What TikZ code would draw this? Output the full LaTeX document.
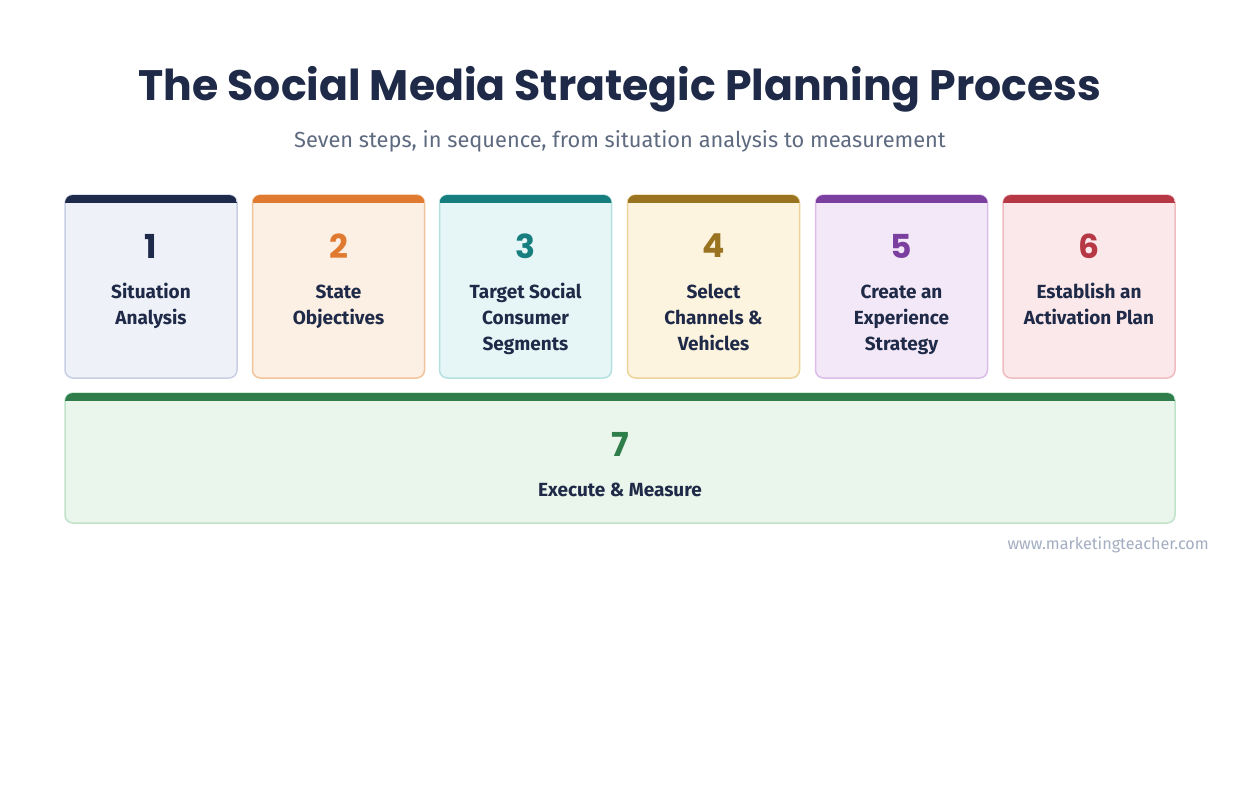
\documentclass[tikz,border=0pt]{standalone}
\usepackage{fontspec}
\setmainfont{Fira Sans}
\newfontfamily\titlefont{Poppins}
\definecolor{ink}{HTML}{1F2A48}
\definecolor{subgray}{HTML}{5E6A80}
\definecolor{footgray}{HTML}{A3AEC2}
\definecolor{colA}{HTML}{1E2A4A}
\definecolor{fillA}{HTML}{EEF1F8}
\definecolor{lineA}{HTML}{C9D0E3}
\definecolor{colB}{HTML}{E07A30}
\definecolor{fillB}{HTML}{FCEFE3}
\definecolor{lineB}{HTML}{F2C49C}
\definecolor{colC}{HTML}{177E80}
\definecolor{fillC}{HTML}{E6F5F5}
\definecolor{lineC}{HTML}{B5E0E0}
\definecolor{colD}{HTML}{9A7320}
\definecolor{fillD}{HTML}{FDF4E0}
\definecolor{lineD}{HTML}{ECD49A}
\definecolor{colE}{HTML}{7B3FA0}
\definecolor{fillE}{HTML}{F3E8F7}
\definecolor{lineE}{HTML}{DCBDE9}
\definecolor{colF}{HTML}{B73845}
\definecolor{fillF}{HTML}{FBE8EA}
\definecolor{lineF}{HTML}{EFBCC2}
\definecolor{colG}{HTML}{2E7D4A}
\definecolor{fillG}{HTML}{EAF5EC}
\definecolor{lineG}{HTML}{BFE3C9}

\begin{document}
\begin{tikzpicture}[x=1pt,y=-1pt,
    card/.style={rounded corners=8pt, line width=1.5pt, outer sep=0pt, inner sep=0pt},
    stepnum/.style={font=\titlefont\bfseries\fontsize{33}{36}\selectfont},
    steptext/.style={text=ink, align=center, inner sep=0pt, font=\bfseries\fontsize{19}{26}\selectfont}]
    \useasboundingbox[fill=white] (0,0) rectangle (1240,800);

    \node[text=ink, font=\titlefont\bfseries\fontsize{42.6}{48}\selectfont] (title) at (620,89) {The Social Media Strategic Planning Process};
    \node[text=subgray, font=\fontsize{21.8}{24}\selectfont] (sub) at (620,141) {Seven steps, in sequence, from situation analysis to measurement};

    \foreach \i/\x/\c/\txt in {1/151/A/{Situation\\Analysis},
                               2/338.5/B/{State\\Objectives},
                               3/525.5/C/{Target Social\\Consumer\\Segments},
                               4/713.5/D/{Select\\Channels \&\\Vehicles},
                               5/901.5/E/{Create an\\Experience\\Strategy},
                               6/1089/F/{Establish an\\Activation Plan}} {
        \node[card, fill=fill\c, draw=line\c, minimum width=172pt, minimum height=183pt] (c\i) at (\x,286.5) {};
        \begin{scope}
            \clip[rounded corners=8pt] (c\i.north west) rectangle (c\i.south east);
            \fill[col\c] (c\i.north west) rectangle ([yshift=-8pt]c\i.north east);
        \end{scope}
        \node[stepnum, text=col\c] (n\i) at (\x,246) {\i};
        \node[steptext, anchor=north] (t\i) at (\x,280) {\strut\txt};
    }

    \node[card, fill=fillG, draw=lineG, minimum width=1110pt, minimum height=130pt] (c7) at (620,458) {};
    \begin{scope}
        \clip[rounded corners=8pt] (c7.north west) rectangle (c7.south east);
        \fill[colG] (c7.north west) rectangle ([yshift=-8pt]c7.north east);
    \end{scope}
    \node[stepnum, text=colG] (n7) at (620,444) {7};
    \node[steptext, anchor=north] (t7) at (620,478) {\strut Execute \& Measure};

    \node[text=footgray, anchor=east, inner sep=0pt, font=\fontsize{16.2}{18}\selectfont] (foot) at (1209,545) {www.marketingteacher.com};
\end{tikzpicture}
\end{document}
